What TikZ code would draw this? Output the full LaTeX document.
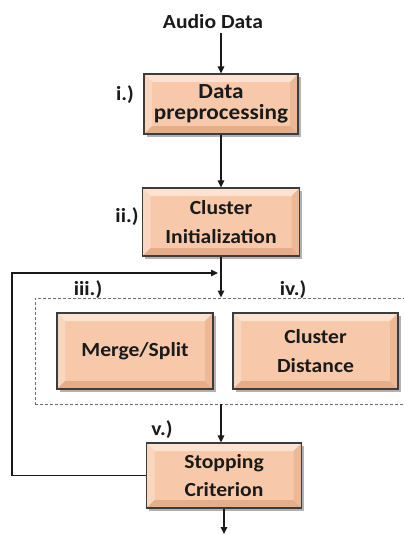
\documentclass[tikz,border=0pt]{standalone}
\usepackage{fontspec}
\setmainfont{Carlito}[FakeStretch=1.08]
\usetikzlibrary{arrows.meta,shadows,calc}
\definecolor{face}{HTML}{F7C9AA}
\definecolor{bvtop}{HTML}{FBE2D1}
\definecolor{bvleft}{HTML}{F9D6BF}
\definecolor{bvbot}{HTML}{E6AD89}
\definecolor{bvright}{HTML}{ECB896}
\definecolor{edge}{HTML}{3C3C3C}
\definecolor{dashc}{HTML}{6E6E6E}
\definecolor{txt}{HTML}{1A1A1A}
\tikzset{
  bevel/.style={path picture={
    \coordinate (pbnw) at (path picture bounding box.north west);
    \coordinate (pbne) at (path picture bounding box.north east);
    \coordinate (pbsw) at (path picture bounding box.south west);
    \coordinate (pbse) at (path picture bounding box.south east);
    \fill[bvtop] (pbnw) -- (pbne) -- ($(pbne)+(-8pt,-8pt)$) -- ($(pbnw)+(8pt,-8pt)$) -- cycle;
    \fill[bvleft] (pbnw) -- (pbsw) -- ($(pbsw)+(8pt,8pt)$) -- ($(pbnw)+(8pt,-8pt)$) -- cycle;
    \fill[bvbot] (pbsw) -- (pbse) -- ($(pbse)+(-8pt,8pt)$) -- ($(pbsw)+(8pt,8pt)$) -- cycle;
    \fill[bvright] (pbne) -- (pbse) -- ($(pbse)+(-8pt,8pt)$) -- ($(pbne)+(-8pt,-8pt)$) -- cycle;
  }},
  box/.style={draw=edge, line width=1.2pt, fill=face, bevel, align=center,
    text=txt, inner sep=0pt,
    font=\bfseries\fontsize{20}{28.5}\selectfont,
    drop shadow={shadow xshift=2.5pt, shadow yshift=-2.5pt, fill=black, opacity=0.3}},
  lbl/.style={font=\bfseries\fontsize{20}{24}\selectfont, text=txt, inner sep=0pt},
  conn/.style={line width=1.4pt, draw=txt, -{Triangle[length=7pt,width=6.5pt]}},
  group/.style={draw=dashc, dash pattern=on 3pt off 2pt, line width=0.9pt, inner sep=0pt}
}
\begin{document}
\begin{tikzpicture}[x=1pt,y=-1pt]
\clip (0,0) rectangle (404,535);
\fill[white] (0,0) rectangle (404,535);

\node[lbl] (audio) at (213,22) {Audio Data};

\node[box, minimum width=154, minimum height=60,
      font=\bfseries\fontsize{21.5}{21.5}\selectfont] (pre) at (221,104) {Data\\preprocessing};
\node[box, minimum width=157, minimum height=68] (ci) at (221,222) {Cluster\\Initialization};

\node[group, minimum width=400, minimum height=106] (grp) at (235,351) {};
\node[box, minimum width=156, minimum height=76] (ms) at (135,351) {Merge/Split};
\node[box, minimum width=165, minimum height=76] (cd) at (315.5,351) {Cluster\\Distance};

\node[box, minimum width=155, minimum height=65] (stop) at (224,475.5) {Stopping\\Criterion};

\node[lbl] (li) at (125,95) {i.)};
\node[lbl] (lii) at (127,217) {ii.)};
\node[lbl] (liii) at (88,290) {iii.)};
\node[lbl] (liv) at (293,290) {iv.)};
\node[lbl] (lv) at (162,430) {v.)};

\coordinate (fbL) at (12,273);
\coordinate (fbE) at (218,273);
\coordinate (out) at (225,534);

\draw[conn] (audio.south -| pre.north) ++(0,4) -- (pre.north);
\draw[conn] (pre.south) -- (ci.north);
\draw[conn] (ci.south) -- (grp.north -| ci.south);
\draw[conn] (grp.south -| ci.south) -- (ci.south |- stop.north);
\draw[conn] (stop.west) -| (fbL) -- (fbE);
\draw[conn] (stop.south) -- (stop.south |- out);
\end{tikzpicture}
\end{document}
